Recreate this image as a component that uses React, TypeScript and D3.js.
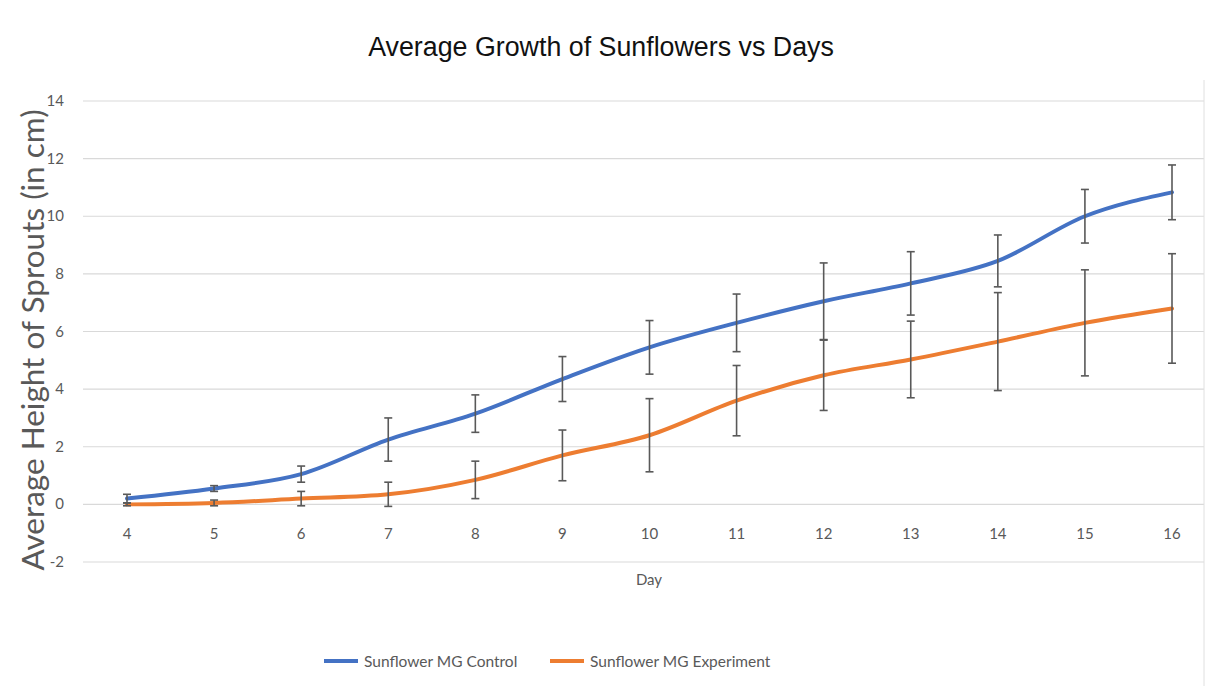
import * as d3 from "d3";
import React, { useEffect, useRef } from "react";

const days = [4, 5, 6, 7, 8, 9, 10, 11, 12, 13, 14, 15, 16];
const controlMean = [0.2, 0.55, 1.05, 2.25, 3.15, 4.35, 5.45, 6.3, 7.05, 7.67, 8.45, 10.0, 10.83];
const controlErr = [0.15, 0.1, 0.28, 0.75, 0.65, 0.78, 0.93, 1.0, 1.33, 1.1, 0.9, 0.93, 0.95];
const expMean = [0.0, 0.05, 0.2, 0.35, 0.85, 1.7, 2.4, 3.6, 4.48, 5.03, 5.65, 6.3, 6.8];
const expErr = [0.05, 0.1, 0.25, 0.42, 0.65, 0.88, 1.27, 1.22, 1.22, 1.33, 1.7, 1.84, 1.9];
const yTicks = [-2, 0, 2, 4, 6, 8, 10, 12, 14];

const W = 1209;
const H = 686;

export default function App() {
  const svgRef = useRef<SVGSVGElement>(null);

  useEffect(() => {
    const svg = d3.select(svgRef.current);
    svg.selectAll("*").remove();

    const x = d3.scalePoint<number>().domain(days).range([127, 1172]);
    const y = d3.scaleLinear().domain([-2, 14]).range([562, 101]);

    svg.append("rect").attr("width", W).attr("height", H).attr("fill", "#fff");

    // title
    svg.append("text")
      .attr("x", 601).attr("y", 56)
      .attr("text-anchor", "middle")
      .style("font-family", "Liberation Sans, Arial, sans-serif")
      .style("font-size", "26.8px")
      .attr("fill", "#111")
      .text("Average Growth of Sunflowers vs Days");

    // gridlines
    svg.append("g").selectAll("line").data(yTicks).enter().append("line")
      .attr("x1", 83).attr("x2", 1204)
      .attr("y1", d => y(d)).attr("y2", d => y(d))
      .attr("stroke", "#d9d9d9").attr("stroke-width", 1.2);

    // right frame edge
    svg.append("line").attr("x1", 1204).attr("x2", 1204).attr("y1", 80).attr("y2", 686)
      .attr("stroke", "#e0e0e0").attr("stroke-width", 1);

    const tickFont = "Lato, 'Open Sans', sans-serif";

    // y tick labels
    svg.append("g").selectAll("text").data(yTicks).enter().append("text")
      .attr("x", 64).attr("y", d => y(d) + 5)
      .attr("text-anchor", "end")
      .style("font-family", tickFont).style("font-size", "15px")
      .attr("fill", "#595959")
      .text(d => d);

    // x tick labels
    svg.append("g").selectAll("text").data(days).enter().append("text")
      .attr("x", d => x(d)!).attr("y", 539)
      .attr("text-anchor", "middle")
      .style("font-family", tickFont).style("font-size", "15px")
      .attr("fill", "#595959")
      .text(d => d);

    // axis titles
    svg.append("text")
      .attr("x", 649).attr("y", 585)
      .attr("text-anchor", "middle")
      .style("font-family", tickFont).style("font-size", "15px")
      .attr("fill", "#595959")
      .text("Day");

    svg.append("text")
      .attr("transform", "translate(44,340) rotate(-90)")
      .attr("text-anchor", "middle")
      .style("font-family", tickFont).style("font-size", "31.5px")
      .attr("fill", "#595959")
      .text("Average Height of Sprouts (in cm)");

    const series = [
      { mean: controlMean, err: controlErr, color: "#4472c4" },
      { mean: expMean, err: expErr, color: "#ed7d31" },
    ];

    const line = d3.line<number>()
      .x((_, i) => x(days[i])!)
      .y(d => y(d))
      .curve(d3.curveMonotoneX);

    series.forEach(s => {
      svg.append("path")
        .datum(s.mean)
        .attr("d", line)
        .attr("fill", "none")
        .attr("stroke", s.color)
        .attr("stroke-width", 4)
        .attr("stroke-linecap", "round")
        .attr("stroke-linejoin", "round");
    });

    // error bars
    series.forEach(s => {
      const g = svg.append("g").attr("stroke", "#595959").attr("stroke-width", 1.6);
      s.mean.forEach((m, i) => {
        const cx = x(days[i])!;
        const top = y(m + s.err[i]);
        const bot = y(m - s.err[i]);
        g.append("line").attr("x1", cx).attr("x2", cx).attr("y1", top).attr("y2", bot);
        g.append("line").attr("x1", cx - 4).attr("x2", cx + 4).attr("y1", top).attr("y2", top);
        g.append("line").attr("x1", cx - 4).attr("x2", cx + 4).attr("y1", bot).attr("y2", bot);
      });
    });

    // legend
    const legend = [
      { label: "Sunflower MG Control", color: "#4472c4", x: 324 },
      { label: "Sunflower MG Experiment", color: "#ed7d31", x: 550 },
    ];
    legend.forEach(l => {
      svg.append("line")
        .attr("x1", l.x).attr("x2", l.x + 34).attr("y1", 661).attr("y2", 661)
        .attr("stroke", l.color).attr("stroke-width", 4);
      svg.append("text")
        .attr("x", l.x + 40).attr("y", 667)
        .style("font-family", tickFont).style("font-size", "15.5px")
        .attr("fill", "#595959")
        .text(l.label);
    });
  }, []);

  return (
    <svg
      ref={svgRef}
      width={W}
      height={H}
      style={{ position: "absolute", left: 0, top: 0, display: "block" }}
    />
  );
}
